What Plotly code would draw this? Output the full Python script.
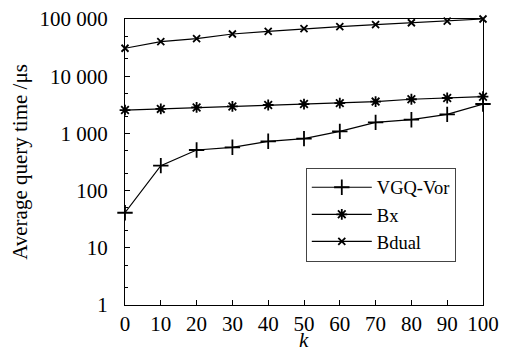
import plotly.graph_objects as go

k = [0, 10, 20, 30, 40, 50, 60, 70, 80, 90, 100]
vgq_vor = [41, 273, 513, 571, 728, 809, 1087, 1560, 1737, 2155, 3265]
bx = [2560, 2680, 2840, 2960, 3140, 3260, 3380, 3600, 3950, 4160, 4380]
bdual = [30800, 40100, 45300, 54700, 60900, 67600, 73400, 79500, 86000, 92000, 100000]

y_tickvals = [1, 10, 100, 1000, 10000, 100000]
y_ticktext = ["1", "10", "100", "1 000", "10 000", "100 000"]
y_minor = [2, 5, 20, 50, 200, 500, 2000, 5000, 20000, 50000]

font = "Liberation Serif"
fs = 21

fig = go.Figure()
series = [
    ("VGQ-Vor", vgq_vor, "cross-thin-open", 11),
    ("Bx", bx, "asterisk-open", 9),
    ("Bdual", bdual, "x-thin-open", 7),
]
for name, ys, sym, sz in series:
    fig.add_trace(go.Scatter(
        x=k, y=ys, name=name, mode="lines+markers",
        line=dict(color="black", width=1.2),
        marker=dict(symbol=sym, size=sz, color="black",
                    line=dict(color="black", width=1.8)),
        cliponaxis=False,
    ))

fig.update_layout(
    width=505, height=355,
    margin=dict(l=125, r=22, t=19, b=50, autoexpand=False),
    paper_bgcolor="white", plot_bgcolor="white",
    font=dict(family=font, size=fs, color="black"),
    showlegend=True,
    legend=dict(x=0.505, y=0.48, xanchor="left", yanchor="top",
                bgcolor="white", bordercolor="#444", borderwidth=1,
                font=dict(family=font, size=18.5, color="black"),
                tracegroupgap=0, itemwidth=60),
    annotations=[dict(text="<i>k</i>", xref="paper", yref="paper",
                      x=0.5, y=-0.172, xanchor="center", yanchor="bottom",
                      showarrow=False, font=dict(family=font, size=fs))],
)
fig.update_xaxes(
    range=[0, 100], tickvals=k, showgrid=False, zeroline=False, automargin=False,
    showline=True, linecolor="black", linewidth=1, mirror=True,
    ticks="inside", ticklen=5, tickcolor="black",
    tickfont=dict(family=font, size=fs),
)
fig.update_yaxes(
    type="log", range=[0, 5], tickvals=y_tickvals, ticktext=y_ticktext,
    showgrid=False, zeroline=False, automargin=False,
    showline=True, linecolor="black", linewidth=1, mirror=True,
    ticks="inside", ticklen=5, tickcolor="black", ticklabelstandoff=12,
    minor=dict(tickvals=y_minor, ticks="inside", ticklen=3, tickcolor="black", showgrid=False),
    tickfont=dict(family=font, size=fs),
    title=dict(text="Average query time /μs", font=dict(family=font, size=fs), standoff=6),
)

fig.write_html("out.html", config={"displayModeBar": False},
               post_script="document.body.style.margin='0';")
